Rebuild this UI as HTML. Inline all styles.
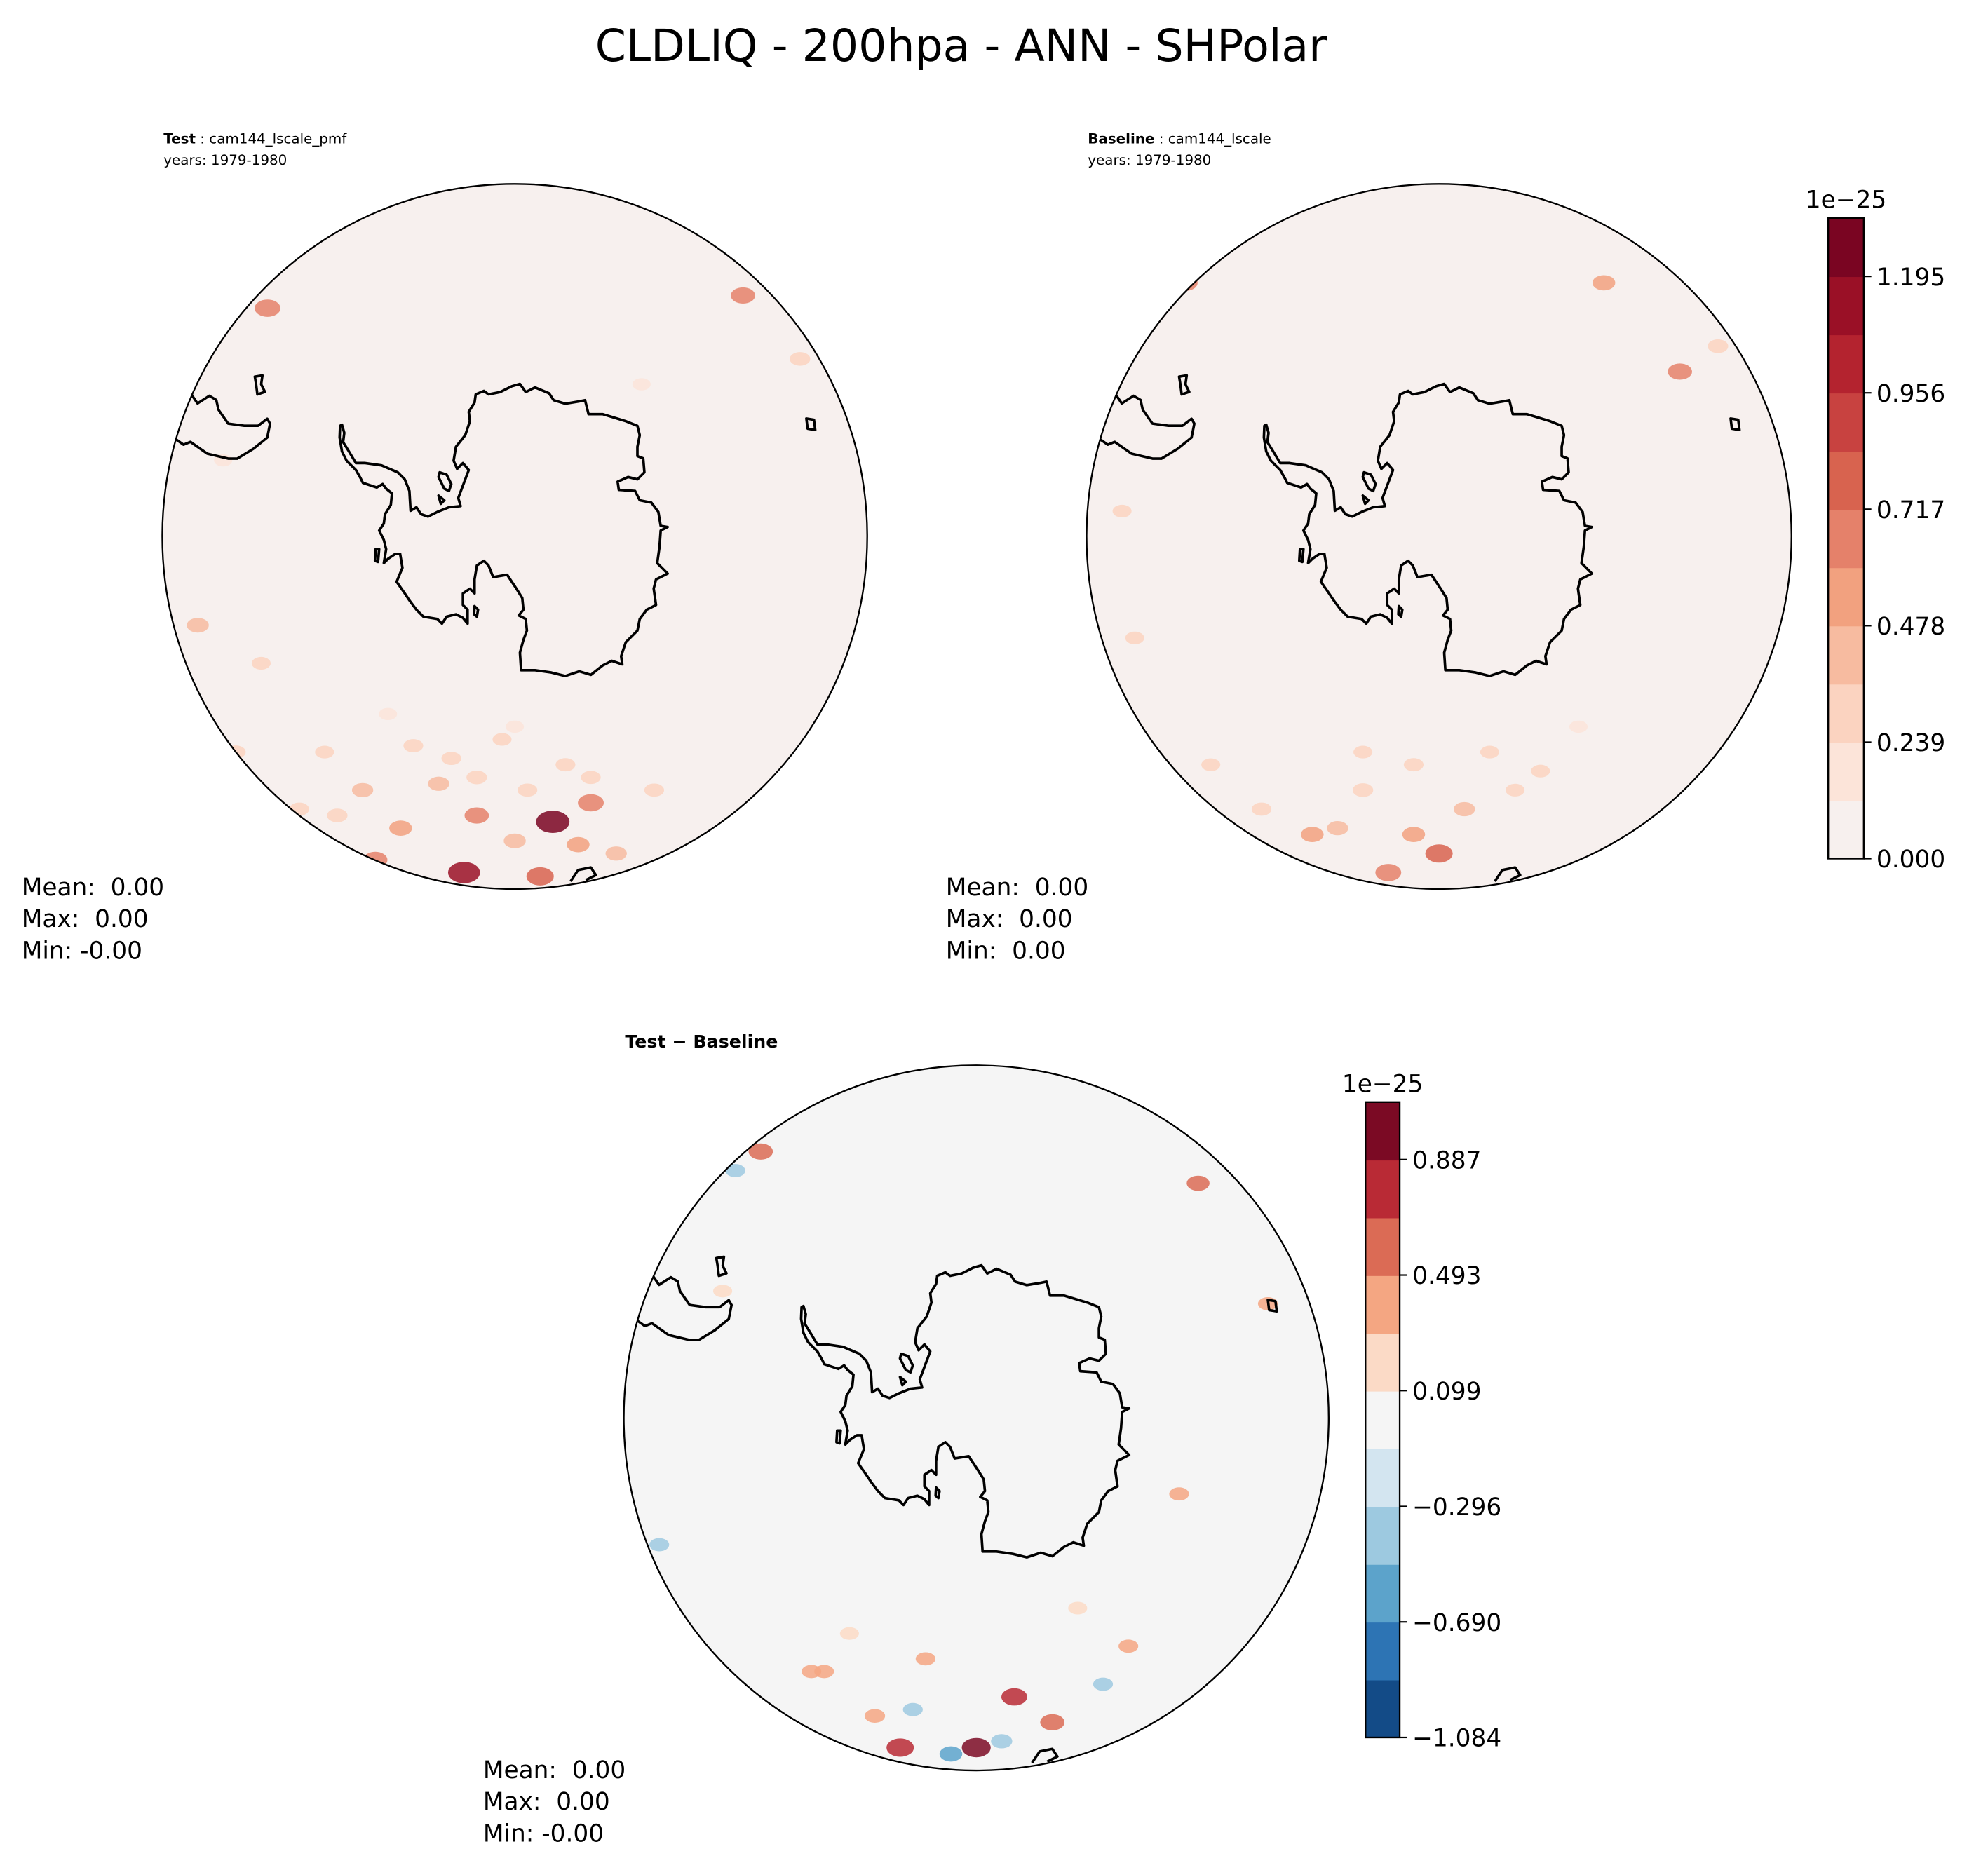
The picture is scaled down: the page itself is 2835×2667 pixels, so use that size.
<!DOCTYPE html>
<html><head><meta charset="utf-8"><style>html,body{margin:0;padding:0;background:#fff}svg{display:block}text{font-family:"DejaVu Sans","Liberation Sans",sans-serif;white-space:pre}</style></head>
<body>
<svg id="fig" width="2835" height="2667" viewBox="0 0 1568 1474.5" preserveAspectRatio="none" xmlns="http://www.w3.org/2000/svg">
<rect width="1568" height="1475" fill="#fff"/>
<text x="758" y="48" font-size="35" text-anchor="middle">CLDLIQ - 200hpa - ANN - SHPolar</text>
<defs>
<clipPath id="c1"><circle cx="406" cy="423" r="278"/></clipPath>
<clipPath id="c2"><circle cx="1135" cy="423" r="278"/></clipPath>
<clipPath id="c3"><circle cx="770" cy="1118" r="278"/></clipPath>
</defs>
<g id="panels"></g>
<g>
<text x="129" y="113" font-size="11"><tspan font-weight="bold">Test</tspan> : cam144_lscale_pmf</text>
<text x="129" y="130" font-size="11">years: 1979-1980</text>
<text x="858" y="113" font-size="11"><tspan font-weight="bold">Baseline</tspan> : cam144_lscale</text>
<text x="858" y="130" font-size="11">years: 1979-1980</text>
<text x="493" y="826" font-size="14" font-weight="bold">Test − Baseline</text>
</g>
<g font-size="19" xml:space="preserve">
<text x="17" y="706">Mean:  0.00</text><text x="17" y="731">Max:  0.00</text><text x="17" y="756">Min: -0.00</text>
<text x="746" y="706">Mean:  0.00</text><text x="746" y="731">Max:  0.00</text><text x="746" y="756">Min:  0.00</text>
<text x="381" y="1402">Mean:  0.00</text><text x="381" y="1427">Max:  0.00</text><text x="381" y="1452">Min: -0.00</text>
</g>
<g id="cb1"></g><g id="cb2"></g>
</svg>
<script>
// colorbar data
const cb1Colors = ["#f7f0ee","#fce4d9","#fbd3c0","#f7bba0","#f2a17f","#e5816a","#d8634f","#c84240","#b4232f","#9a1026","#7a0522"];
const cb1Ticks = ["0.000","0.239","0.478","0.717","0.956","1.195"];
const cb1Min = 0, cb1Max = 1.3145;
const cb1TickVals = [0,0.239,0.478,0.717,0.956,1.195];
const cb2Colors = ["#134b87","#2d74b4","#5ca3cb","#9dc9e0","#d3e5f0","#f5f5f5","#fbdac6","#f4a682","#db6b55","#b92a35","#7b0a24"];
const cb2Ticks = ["\u22121.084","\u22120.690","\u22120.296","0.099","0.493","0.887"];
const cb2TickVals = [-1.084,-0.690,-0.296,0.099,0.493,0.887];
const cb2Min = -1.084, cb2Max = 1.083;
// blob data (relative position within panel, value)
const p1BlobX = [-190,-120,-90,-60,-30,0,30,60,80,-150,-110,-40,20,50,-250,-195,180,225,-30,10,-220,-200,100,-50,-10,40,-80,-140,60,-170,-100,0,110,-230];
const p1BlobY = [250,200,230,195,220,240,225,210,250,170,255,265,268,243,70,-180,-190,-140,190,200,170,100,-120,175,160,180,165,220,190,215,140,150,200,-60];
const p1BlobV = [0.3,0.4,0.5,0.4,0.6,0.45,1.2,0.7,0.4,0.25,0.6,1.1,0.8,0.5,0.45,0.7,0.6,0.35,0.35,0.3,0.3,0.25,0.2,0.3,0.25,0.3,0.3,0.35,0.3,0.3,0.2,0.2,0.3,0.2];
const p2BlobX = [-140,-100,-60,-20,20,0,-40,60,-230,-200,130,190,220,-250,-60,80,-20,40,-80,110,-180,-240];
const p2BlobY = [215,235,200,235,215,250,265,200,-220,-200,-200,-130,-150,-20,170,185,180,170,230,150,180,80];
const p2BlobV = [0.3,0.5,0.35,0.5,0.4,0.8,0.7,0.25,0.5,0.6,0.5,0.6,0.35,0.25,0.25,0.25,0.3,0.25,0.4,0.2,0.25,0.25];
const p3BlobX = [-80,-40,0,30,60,-120,-60,20,-20,175,-190,-230,160,-170,-130,120,-250,-100,80,-50,100,-200,230];
const p3BlobY = [235,190,260,220,240,200,260,255,265,-185,-195,-190,60,-210,200,180,100,170,150,230,210,-100,-90];
const p3BlobV = [0.35,0.3,0.9,0.7,0.6,0.3,0.8,-0.4,-0.5,0.5,-0.3,-0.3,0.3,0.6,0.3,0.3,-0.3,0.25,0.25,-0.3,-0.3,0.25,0.3];

const NS = "http://www.w3.org/2000/svg";
function mk(tag, attrs, parent){const e=document.createElementNS(NS,tag);for(const k in attrs)e.setAttribute(k,attrs[k]);parent.appendChild(e);return e;}
function colorFor(v, cols, mn, mx){let i=Math.floor((v-mn)/(mx-mn)*cols.length);i=Math.max(0,Math.min(cols.length-1,i));return cols[i];}

const ant = "M30,265 L40,300 L35,340 L60,380 L90,430 L130,430 L200,440 L270,470 L300,500 L320,550 L325,635 L350,620 L370,650 L400,660 L440,640 L490,620 L540,615 L530,580 L545,540 L560,500 L575,460 L550,430 L525,455 L510,420 L520,360 L560,310 L580,250 L575,210 L600,170 L605,135 L640,120 L660,135 L710,125 L760,100 L795,90 L820,125 L860,105 L920,130 L940,160 L990,175 L1050,165 L1075,160 L1090,220 L1150,220 L1200,235 L1250,250 L1300,270 L1310,310 L1300,360 L1300,400 L1325,410 L1330,470 L1300,500 L1260,490 L1215,510 L1220,545 L1290,550 L1310,590 L1360,600 L1390,640 L1400,700 L1430,705 L1400,720 L1395,790 L1385,860 L1430,905 L1380,930 L1370,970 L1380,1040 L1340,1060 L1310,1100 L1300,1150 L1250,1200 L1230,1260 L1235,1295 L1190,1280 L1150,1300 L1100,1340 L1050,1325 L990,1345 L930,1330 L860,1320 L800,1320 L795,1245 L810,1190 L825,1150 L820,1100 L790,1085 L810,1060 L805,1010 L780,970 L740,910 L680,920 L660,870 L640,850 L610,870 L600,930 L600,990 L580,970 L550,990 L550,1040 L570,1060 L570,1120 L550,1095 L520,1080 L480,1090 L460,1120 L440,1100 L380,1090 L350,1060 L320,1020 L300,990 L265,940 L290,880 L280,820 L260,820 L230,840 L210,860 L220,800 L210,760 L190,720 L210,690 L215,650 L240,610 L245,560 L220,540 L205,520 L180,535 L120,515 L110,495 L90,460 L50,420 L30,380 L20,320 L22,270 Z M450,470 L480,480 L500,520 L490,550 L470,540 L445,490 Z M445,570 L470,590 L455,605 Z M600,1045 L615,1060 L610,1090 L598,1080 Z M175,800 L190,800 L185,855 L172,850 Z";
const sa = "M150.2,309.9 L155.8,318.1 L165.1,312.1 L170.6,315.4 L172.3,323 L180,334 L192.6,335.7 L203.6,335.7 L210.8,330.2 L213,334 L210.8,345 L199.8,353.9 L187.1,361.6 L180,361.6 L163.5,357.7 L150.2,348.4 L144.7,350.6 L139.2,346.7 L128,345";
const extra = "M201,297 L207,296 L206,303 L209,309 L203,311 L202,303 Z M636,330 L642,331 L643,339 L637,338 Z M450,695 L456,686 L466,684 L470,690 L462,694";

const panels = [
 {cx:406,cy:423,clip:"c1",bg:"#f7f0ee",bx:p1BlobX,by:p1BlobY,bv:p1BlobV,cols:cb1Colors,mn:cb1Min,mx:cb1Max,name:"test-map"},
 {cx:1135,cy:423,clip:"c2",bg:"#f7f0ee",bx:p2BlobX,by:p2BlobY,bv:p2BlobV,cols:cb1Colors,mn:cb1Min,mx:cb1Max,name:"baseline-map"},
 {cx:770,cy:1118,clip:"c3",bg:"#f5f5f5",bx:p3BlobX,by:p3BlobY,bv:p3BlobV,cols:cb2Colors,mn:cb2Min,mx:cb2Max,name:"difference-map"}
];
const root = document.getElementById("panels");
panels.forEach(p=>{
 const g = mk("g",{},root);
 
 
 const inner = mk("g",{"clip-path":"url(#"+p.clip+")"},g);
 mk("circle",{cx:p.cx,cy:p.cy,r:278,fill:p.bg},inner);
 for(let i=0;i<p.bx.length;i++){
  const b = mk("ellipse",{cx:p.cx+p.bx[i],cy:p.cy+p.by[i],rx:6+Math.abs(p.bv[i])*6,ry:4+Math.abs(p.bv[i])*4,fill:colorFor(p.bv[i],p.cols,p.mn,p.mx),opacity:0.85},inner);
  
  
 }
 const dx = p.cx-406, dy = p.cy-423;
 const coast = mk("g",{transform:"translate("+dx+","+dy+")",fill:"none",stroke:"#000","stroke-width":2,"stroke-linejoin":"round"},inner);
 
 
 mk("path",{d:ant,transform:"translate(264.2,286.2) scale(0.1835)","stroke-width":11},coast);
 mk("path",{d:sa},coast);
 mk("path",{d:extra},coast);
 const border = mk("circle",{cx:p.cx,cy:p.cy,r:278,fill:"none",stroke:"#000","stroke-width":1.3},g);
 
 
});

function colorbar(id, x, y0, y1, w, cols, ticks, tvals, mn, mx, name){
 const g = document.getElementById(id);
 
 
 const n = cols.length, h = (y1-y0)/n;
 cols.forEach((c,i)=>{ mk("rect",{x:x,y:y1-(i+1)*h,width:w,height:h+0.5,fill:c},g); });
 mk("rect",{x:x,y:y0,width:w,height:y1-y0,fill:"none",stroke:"#000","stroke-width":1.3},g);
 const ys = v => y1 - (v-mn)/(mx-mn)*(y1-y0);
 tvals.forEach((v,i)=>{
  const yy = ys(v);
  mk("line",{x1:x+w,x2:x+w+6,y1:yy,y2:yy,stroke:"#000","stroke-width":1.2},g);
  const t = mk("text",{x:x+w+10,y:yy+7,"font-size":19},g);
  t.textContent = ticks[i];
  
  
 });
 const e = mk("text",{x:x+w/2,y:y0-8,"font-size":19,"text-anchor":"middle"},g);
 e.textContent = "1e\u221225";
 
 
}
colorbar("cb1",1442,172,677,28,cb1Colors,cb1Ticks,cb1TickVals,cb1Min,cb1Max,"colorbar-top");
colorbar("cb2",1077,869,1370,27,cb2Colors,cb2Ticks,cb2TickVals,cb2Min,cb2Max,"colorbar-difference");
</script>
</body></html>
